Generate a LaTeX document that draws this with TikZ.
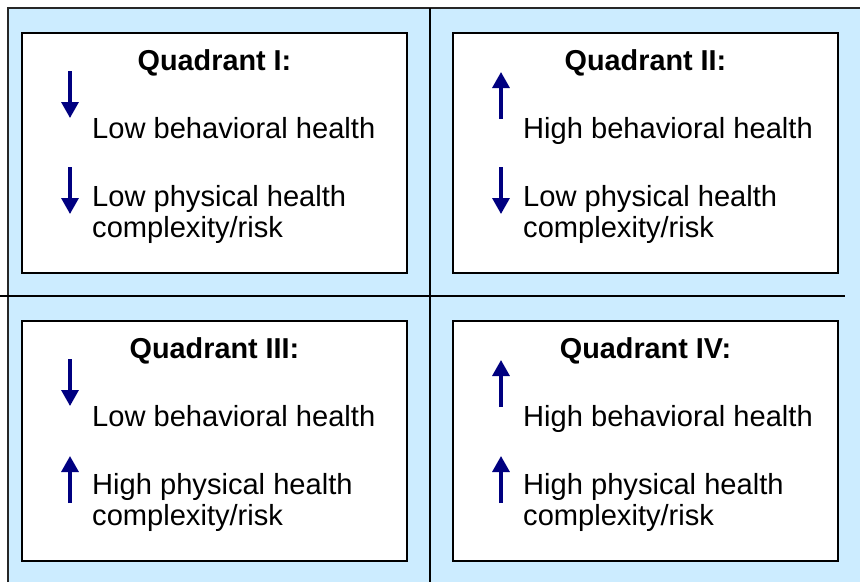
\documentclass[tikz,border=0pt]{standalone}
\usepackage{fontspec}
\setmainfont{Liberation Sans}
\usetikzlibrary{arrows.meta}
\definecolor{bgblue}{RGB}{204,236,255}
\definecolor{arrnavy}{RGB}{0,0,128}
\newcommand\DownArr[1]{\draw[qarr] (70,#1) -- (70,#1+47);}
\newcommand\UpArr[1]{\draw[qarr] (70,#1+48) -- (70,#1+1);}
% #1 name, #2 title, #3 arrow1, #4 text1, #5 arrow2, #6 text2
\newcommand\Quadrant[6]{%
  \node[quadbox] (#1) at (22,33) {};
  \node[qtitle] (#1t) at (214.5,70) {#2};
  #3{71}
  \node[qtext] (#1a) at (92,138) {#4};
  #5{167}
  \node[qtext] (#1b) at (92,206) {#6};
  \node[qtext] (#1c) at (92,237) {complexity/risk};
}
\begin{document}
\begin{tikzpicture}[x=1pt,y=-1pt,
  quadbox/.style={draw=black, line width=2pt, fill=white, anchor=north west,
    minimum width=385pt, minimum height=240pt, inner sep=0pt, outer sep=0pt},
  qtitle/.style={anchor=base, inner sep=0pt, font=\fontsize{28.8}{30}\selectfont\bfseries},
  qtext/.style={anchor=base west, inner sep=0pt, font=\fontsize{29.1}{30}\selectfont},
  qarr/.style={draw=arrnavy, line width=3.3pt, -{Triangle[width=17pt,length=16pt]}},
  divider/.style={draw=black, line width=1.4pt}]
\useasboundingbox (0,0) rectangle (860,582);
\fill[bgblue] (8,8) rectangle (860,582);
\draw[line width=1.6pt, draw=black!85] (8,582) -- (8,8) -- (860,8);
\draw[divider] (0,296) -- (845,296);
\draw[divider] (430,8) -- (430,582);
\begin{scope}
  \Quadrant{q1}{Quadrant I:}{\DownArr}{Low behavioral health}{\DownArr}{Low physical health}
\end{scope}
\begin{scope}[xshift=431pt]
  \Quadrant{q2}{Quadrant II:}{\UpArr}{High behavioral health}{\DownArr}{Low physical health}
\end{scope}
\begin{scope}[yshift=-288pt]
  \Quadrant{q3}{Quadrant III:}{\DownArr}{Low behavioral health}{\UpArr}{High physical health}
\end{scope}
\begin{scope}[xshift=431pt, yshift=-288pt]
  \Quadrant{q4}{Quadrant IV:}{\UpArr}{High behavioral health}{\UpArr}{High physical health}
\end{scope}
\end{tikzpicture}
\end{document}
